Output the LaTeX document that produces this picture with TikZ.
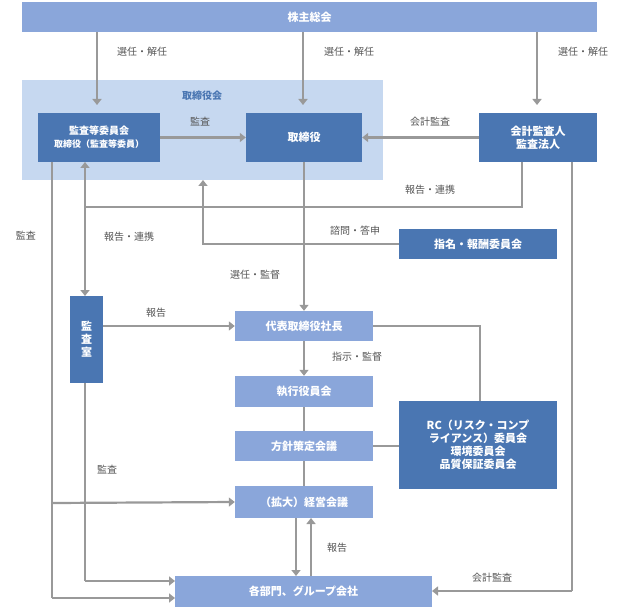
\documentclass[tikz,border=0pt]{standalone}
\usepackage{fontspec}
\setmainfont{Noto Sans CJK JP}
\usetikzlibrary{arrows.meta}
\definecolor{dk}{HTML}{4A76B2}
\definecolor{md}{HTML}{8AA6DA}
\definecolor{lt}{HTML}{C6D8F0}
\definecolor{ar}{HTML}{999999}
\definecolor{tx}{HTML}{555555}
\begin{document}
\begin{tikzpicture}[x=1pt,y=-1pt,
 box/.style={fill=#1,text=white,font=\fontsize{11}{13}\selectfont\bfseries,inner sep=0,align=center},
 lab/.style={text=tx,font=\fontsize{10}{12}\selectfont,inner sep=1pt},
 ln/.style={draw=ar,line width=2.2pt},
 arr/.style={ln,-{Triangle[length=6pt,width=9pt]}}]
\useasboundingbox (0,0) rectangle (620,609);
\fill[lt] (22,80) rectangle (383,180);
\node[text=dk,font=\fontsize{10}{12}\selectfont\bfseries] (bd) at (202,96) {取締役会};
\node[box=md,minimum width=575,minimum height=30] (sh) at (309.5,17) {株主総会};
\node[box=dk,minimum width=122,minimum height=49,font=\fontsize{10}{13}\selectfont\bfseries] (ac) at (99,137.5) {監査等委員会\\{\fontsize{9}{11}\selectfont 取締役（監査等委員）}};
\node[box=dk,minimum width=116,minimum height=49] (dr) at (304,137.5) {取締役};
\node[box=dk,minimum width=118,minimum height=49] (au) at (538,137.5) {会計監査人\\監査法人};
\node[box=dk,minimum width=158,minimum height=30] (nm) at (478,244) {指名・報酬委員会};
\node[box=dk,minimum width=33,minimum height=87] (ia) at (86.5,339.5) {監\\査\\室};
\node[box=md,minimum width=138,minimum height=30] (pr) at (304,326) {代表取締役社長};
\node[box=md,minimum width=138,minimum height=31] (ex) at (304,391.5) {執行役員会};
\node[box=md,minimum width=138,minimum height=30] (po) at (304,446) {方針策定会議};
\node[box=md,minimum width=138,minimum height=32] (mg) at (304,502) {（拡大）経営会議};
\node[box=md,minimum width=257,minimum height=31] (dp) at (303.5,591.5) {各部門、グループ会社};
\node[box=dk,minimum width=158,minimum height=88] (rc) at (478,445) {RC（リスク・コンプ\\ライアンス）委員会\\環境委員会\\品質保証委員会};
% shareholders
\draw[arr] (97,32) -- (97,105);
\draw[arr] (303,32) -- (303,105);
\draw[arr] (537,32) -- (537,105);
\node[lab] at (142,52) {選任・解任};
\node[lab] at (349,52) {選任・解任};
\node[lab] at (583,52) {選任・解任};
\draw[arr] (ac.east) -- (dr.west);
\node[lab] at (200,122) {監査};
\draw[arr] (au.west) -- (dr.east);
\node[lab] at (430,122) {会計監査};
\draw[ln] (522,162) -- (522,207) -- (85,207);
\node[lab] at (430,190) {報告・連携};
\draw[ln,{Triangle[length=6pt,width=9pt]}-{Triangle[length=6pt,width=9pt]}] (85,162) -- (85,296);
\node[lab] at (129,237) {報告・連携};
\draw[ln,-{Triangle[length=6pt,width=9pt]}] (nm.west) -- (203,244) -- (203,180);
\node[lab] at (355,231) {諮問・答申};
\draw[arr] (dr.south) -- (pr.north);
\node[lab] at (255,275) {選任・監督};
\draw[arr] (ia.east |- pr.west) -- (pr.west);
\node[lab] at (156,313) {報告};
\draw[arr] (pr.south) -- (ex.north);
\node[lab] at (357,357) {指示・監督};
\draw[ln] (ex.south) -- (po.north);
\draw[ln] (po.south) -- (mg.north);
\draw[ln] (pr.east) -- (480,326) -- (rc.north -| 480,0);
\draw[ln] (po.east) -- (rc.west |- po.east);
\draw[arr] (296,518) -- (296,576);
\draw[arr] (311,576) -- (311,518);
\node[lab] at (337,548) {報告};
\draw[ln] (52,162) -- (52,598);
\draw[arr] (52,598) -- (175,598);
\draw[arr] (52,503) -- (mg.west);
\node[lab] at (26,236) {監査};
\draw[ln] (85,383) -- (85,581);
\draw[arr] (85,581) -- (175,581);
\node[lab] at (107,470) {監査};
\draw[ln] (572,162) -- (572,591);
\draw[arr] (572,591) -- (432,591);
\node[lab] at (492,578) {会計監査};
\end{tikzpicture}
\end{document}
